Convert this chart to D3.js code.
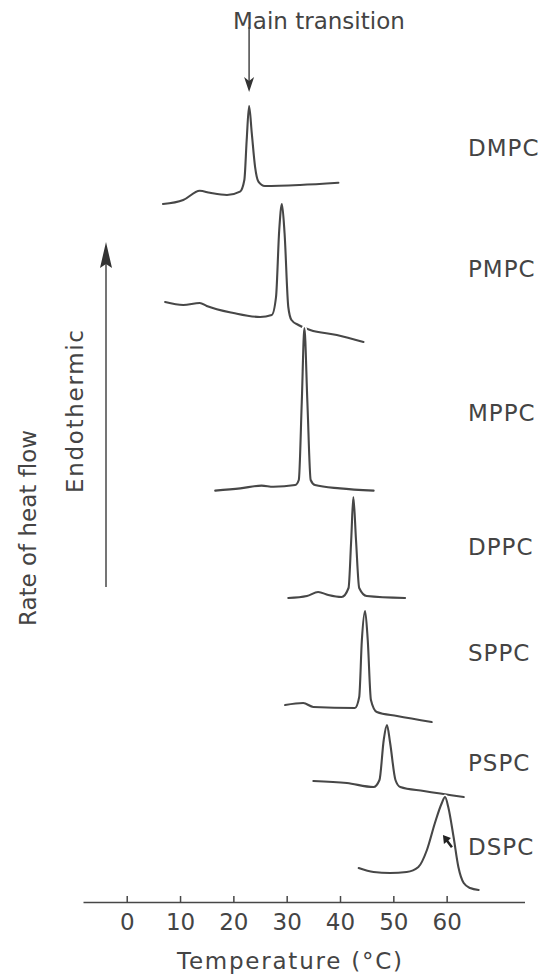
<!DOCTYPE html>
<html>
<head>
<meta charset="utf-8">
<script src="https://cdn.jsdelivr.net/npm/d3@7"></script>
<style>
  html, body { margin: 0; padding: 0; background: #fff; }
  svg { display: block; }
  text { font-family: "DejaVu Sans", sans-serif; fill: #444; }
</style>
</head>
<body>
<svg id="chart" width="545" height="976"></svg>
<script>
// DSC thermograms of phosphatidylcholines, stacked by an arbitrary heat-flow offset.
const lipids = ["DMPC", "PMPC", "MPPC", "DPPC", "SPPC", "PSPC", "DSPC"];
const offsets = [349, 300, 206, 152, 98.5, 60.5, 17];          // stacking offset (a.u.)
const labelLevels = [377, 316.5, 244.5, 177.5, 124.5, 69.5, 27.5]; // label height (a.u.)

// Temperature (°C) and heat flow above each trace's own baseline (a.u.)
const dmpcT = [6.8, 10.6, 13.7, 15.6, 18.8, 21.25, 22.06, 22.5, 22.95, 23.45, 24.07, 24.7, 25.9, 32.5, 39.7];
const dmpcQ = [0, 2, 6.6, 5.6, 4.5, 6.2, 12, 32, 49, 35.5, 18.6, 11.2, 9, 9.5, 10.6];

const pmpcT = [7.2, 10.6, 13.7, 15.0, 20.0, 25.0, 27.2, 28.0, 28.6, 29.1, 29.6, 30.3, 30.9, 32.2, 34.4, 39.4, 44.4];
const pmpcQ = [0, -1.5, -0.5, -2, -5.5, -7.5, -6.5, 2.5, 36, 49, 34.5, -2.5, -9, -11.5, -14, -16.5, -20];

const mppcT = [16.6, 21.3, 25.3, 27.5, 31.6, 32.27, 32.83, 33.32, 33.88, 34.5, 35.3, 40.0, 46.3];
const mppcQ = [-0.3, 0.8, 2.2, 1.6, 2.5, 5, 44, 81, 44, 5, 2.5, 0.8, -0.3];

const dppcT = [30.3, 33.8, 35.9, 37.8, 40.3, 41.6, 42.1, 42.5, 43.0, 43.6, 45.0, 52.2];
const dppcQ = [0, 1, 3, 1.5, 0.5, 5, 29, 50.5, 29, 5, 1, 0];

const sppcT = [29.7, 33.1, 35.0, 42.8, 43.6, 44.1, 44.7, 45.2, 45.8, 46.9, 50.7, 57.2];
const sppcQ = [0, 1, -1, -1.5, 4, 32.5, 47, 32.5, 2.5, -3.5, -5.5, -8.5];

const pspcT = [35.0, 41.3, 46.3, 47.4, 48.2, 48.8, 49.4, 50.4, 51.3, 55.7, 63.2];
const pspcQ = [0, -1, -3, 0.5, 20.5, 28, 19, 0.5, -3, -5, -8];

const dspcT = [43.5, 46.3, 49.4, 52.5, 54.7, 56.3, 57.8, 59.1, 59.7, 60.3, 61.3, 62.2, 63.2, 64.4, 66.0];
const dspcQ = [0, -2, -2.5, -2, 0.5, 9, 22.5, 32.5, 35.5, 30.5, 15.5, 0.5, -7.5, -10, -11];

const tempTicks = [0, 10, 20, 30, 40, 50, 60];

const traceT = [dmpcT, pmpcT, mppcT, dppcT, sppcT, pspcT, dspcT];
const traceQ = [dmpcQ, pmpcQ, mppcQ, dppcQ, sppcQ, pspcQ, dspcQ];

const svg = d3.select("#chart");
const ink = "#474747";

const x = d3.scaleLinear().domain([-8.2, 74.6]).range([83, 524.5]);
const y = d3.scaleLinear().domain([0, 450]).range([902, 2]);

// traces, each drawn over a thin white halo so lower curves break the ones they cross
const line = d3.line()
  .x(d => x(d[0]))
  .y(d => y(d[1]))
  .curve(d3.curveMonotoneX);

lipids.forEach((name, i) => {
  const pts = traceT[i].map((t, j) => [t, offsets[i] + traceQ[i][j]]);
  svg.append("path")
    .datum(pts)
    .attr("d", line)
    .attr("fill", "none")
    .attr("stroke", "#fff")
    .attr("stroke-width", 5)
    .attr("stroke-linejoin", "round");
  svg.append("path")
    .datum(pts)
    .attr("d", line)
    .attr("fill", "none")
    .attr("stroke", ink)
    .attr("stroke-width", 2.1)
    .attr("stroke-linejoin", "round")
    .attr("stroke-linecap", "round");

  svg.append("text")
    .attr("x", 468)
    .attr("y", y(labelLevels[i]))
    .attr("dy", "0.36em")
    .attr("font-size", 23)
    .attr("letter-spacing", 1)
    .text(name);
});

// temperature axis: ticks point upward, labels below
const axis = d3.axisBottom(x)
  .tickValues(tempTicks)
  .tickSizeInner(-6)
  .tickSizeOuter(0)
  .tickPadding(12)
  .tickFormat(d3.format("d"));

const gx = svg.append("g")
  .attr("transform", `translate(0,${y(0)})`)
  .call(axis);
gx.select(".domain").attr("stroke", ink).attr("stroke-width", 1.5);
gx.selectAll(".tick line").attr("stroke", ink).attr("stroke-width", 1.5);
gx.selectAll(".tick text")
  .attr("font-size", 23)
  .attr("font-family", "DejaVu Sans, sans-serif")
  .attr("fill", "#444");

svg.append("text")
  .attr("x", 289.5)
  .attr("y", 969)
  .attr("text-anchor", "middle")
  .attr("font-size", 23)
  .attr("textLength", 225)
  .attr("lengthAdjust", "spacing")
  .text("Temperature (°C)");

// vertical titles
svg.append("text")
  .attr("transform", "translate(36,528) rotate(-90)")
  .attr("text-anchor", "middle")
  .attr("font-size", 23)
  .text("Rate of heat flow");

svg.append("text")
  .attr("transform", "translate(83,411.5) rotate(-90)")
  .attr("text-anchor", "middle")
  .attr("font-size", 23)
  .attr("textLength", 163)
  .attr("lengthAdjust", "spacing")
  .text("Endothermic");

// endothermic direction arrow
const arrowX = 106;
svg.append("line")
  .attr("x1", arrowX).attr("x2", arrowX)
  .attr("y1", 587).attr("y2", 262)
  .attr("stroke", ink).attr("stroke-width", 1.5);
svg.append("path")
  .attr("d", `M${arrowX},242 L${arrowX - 6},268 L${arrowX},264 L${arrowX + 6},268 Z`)
  .attr("fill", "#333");

// main transition pointer, placed at the DMPC peak temperature
const peakIdx = d3.maxIndex(dmpcQ);
const px = x(dmpcT[peakIdx]);
svg.append("text")
  .attr("x", 233)
  .attr("y", 29)
  .attr("font-size", 23)
  .text("Main transition");
svg.append("line")
  .attr("x1", px).attr("x2", px)
  .attr("y1", 27).attr("y2", 84)
  .attr("stroke", ink).attr("stroke-width", 1.5);
svg.append("path")
  .attr("d", `M${px},92 L${px - 5},77 L${px},81 L${px + 5},77 Z`)
  .attr("fill", "#333");

// small pointer on the DSPC peak flank
const cx = x(59.3), cy = y(33.5);
svg.append("path")
  .attr("d", `M${cx},${cy} L${cx + 1},${cy + 9} L${cx + 3.5},${cy + 7} L${cx + 8},${cy + 13} L${cx + 10},${cy + 11.5} L${cx + 5.5},${cy + 5.5} L${cx + 8},${cy + 3} Z`)
  .attr("fill", "#222");
</script>
</body>
</html>
